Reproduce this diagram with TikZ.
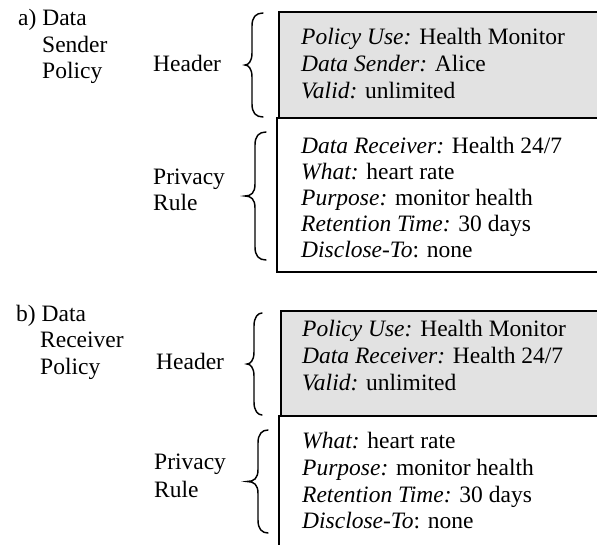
\documentclass[tikz,border=0pt]{standalone}
\usepackage{fontspec}
\setmainfont{Liberation Serif}
\definecolor{hdrgray}{RGB}{226,226,226}
\newcommand{\polbrace}[5]{%
  \pgfmathsetmacro{\pbM}{(#2+#3)/2}%
  \draw[bracestyle] (#1,#2) .. controls (#4+4,#2) and (#4,#2+4) .. (#4,#2+13) -- (#4,\pbM-12)
    .. controls (#4,\pbM-3) and (#4-4,\pbM) .. (#5,\pbM) .. controls (#4-4,\pbM) and (#4,\pbM+3) .. (#4,\pbM+12)
    -- (#4,#3-13) .. controls (#4,#3-4) and (#4+4,#3) .. (#1,#3);}
\begin{document}
\begin{tikzpicture}[x=1pt,y=-1pt,
  txt/.style={anchor=base west, inner sep=0pt, font=\fontsize{23.5}{27}\selectfont},
  hdrbox/.style={draw=black, line width=1.3pt, fill=hdrgray},
  rulebox/.style={draw=black, line width=1.3pt, fill=white},
  bracestyle/.style={draw=black, line width=1.45pt, line cap=round},
]
\useasboundingbox (0,0) rectangle (597,544);
\clip (0,0) rectangle (597,544);

% ---------- a) ----------
\draw[hdrbox] (279,12) rectangle (640,118);
\draw[rulebox] (277,118) rectangle (640,272);

\node[txt] (aL1) at (18,25) {a) Data};
\node[txt] (aL2) at (42,52) {Sender};
\node[txt] (aL3) at (42,78) {Policy};

\node[txt] (aH) at (153,71) {Header};
\node[txt] (aP1) at (153,184) {Privacy};
\node[txt] (aP2) at (153,210) {Rule};

\polbrace{263}{13}{117}{252}{245}
\polbrace{266}{132}{260}{255}{245}

\node[txt] (ah1) at (301,44.5) {\textit{Policy Use:} Health Monitor};
\node[txt] (ah2) at (301,71.5) {\textit{Data Sender:} Alice};
\node[txt] (ah3) at (301,98.5) {\textit{Valid:} unlimited};

\node[txt] (ar1) at (301,153) {\textit{Data Receiver:} Health 24/7};
\node[txt] (ar2) at (301,179) {\textit{What:} heart rate};
\node[txt] (ar3) at (301,205) {\textit{Purpose:} monitor health};
\node[txt] (ar4) at (301,231) {\textit{Retention Time:} 30 days};
\node[txt] (ar5) at (301,257) {\textit{Disclose-To}: none};

% ---------- b) ----------
\draw[hdrbox] (281,311) rectangle (640,416);
\draw[rulebox] (279,416) rectangle (640,580);

\node[txt] (bL1) at (16,321) {b) Data};
\node[txt] (bL2) at (40,347) {Receiver};
\node[txt] (bL3) at (40,374) {Policy};

\node[txt] (bH) at (156,369) {Header};
\node[txt] (bP1) at (154,469) {Privacy};
\node[txt] (bP2) at (154,497) {Rule};

\polbrace{262}{313}{415}{254}{247}
\polbrace{268}{430}{533}{258}{247}

\node[txt] (bh1) at (302,336) {\textit{Policy Use:} Health Monitor};
\node[txt] (bh2) at (302,363) {\textit{Data Receiver:} Health 24/7};
\node[txt] (bh3) at (302,390) {\textit{Valid:} unlimited};

\node[txt] (br1) at (302,448) {\textit{What:} heart rate};
\node[txt] (br2) at (302,475) {\textit{Purpose:} monitor health};
\node[txt] (br3) at (302,502) {\textit{Retention Time:} 30 days};
\node[txt] (br4) at (302,528) {\textit{Disclose-To}: none};
\end{tikzpicture}
\end{document}
